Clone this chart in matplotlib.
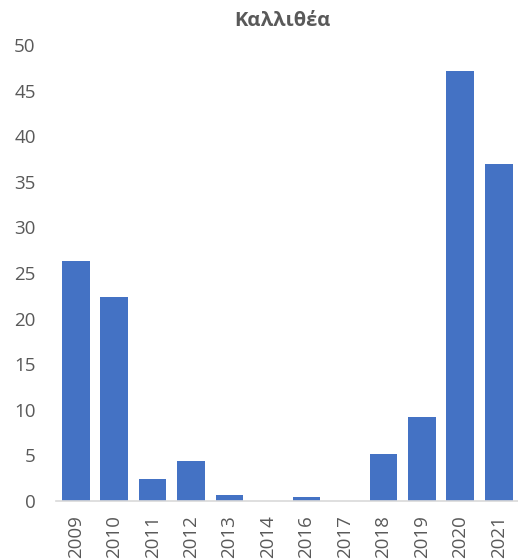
import matplotlib
matplotlib.use("Agg")
import matplotlib.pyplot as plt

plt.rcParams['font.family'] = ['Open Sans', 'DejaVu Sans']

years = ["2009", "2010", "2011", "2012", "2013", "2014", "2016",
         "2017", "2018", "2019", "2020", "2021"]
values = [26.3, 22.4, 2.45, 4.4, 0.7, 0.0, 0.45, 0.0, 5.15, 9.25, 47.15, 36.9]

bar_color = "#4472c4"
text_color = "#595959"

fig = plt.figure(figsize=(5.18, 5.59), dpi=100)
ax = fig.add_axes([56.5 / 518, 58 / 559, (518 - 56.5) / 518, (501 - 45) / 559])

ax.bar(range(len(years)), values, width=0.72, color=bar_color)
ax.set_xlim(-0.5, len(years) - 0.5)
ax.set_ylim(0, 50)
ax.set_yticks(range(0, 51, 5))
ax.set_xticks(range(len(years)))
ax.set_xticklabels(years, rotation=90)

for s in ["top", "right", "left"]:
    ax.spines[s].set_visible(False)
ax.spines["bottom"].set_color("#d9d9d9")
ax.spines["bottom"].set_linewidth(1.2)
ax.tick_params(axis="both", length=0, labelsize=13.5, colors=text_color)
ax.tick_params(axis="y", pad=15)
ax.tick_params(axis="x", pad=10)

fig.text(0.545, 1 - 21 / 559, "Καλλιθέα", ha="center", va="center",
         fontsize=14.5, fontweight="bold", color=text_color)

fig.savefig("out.png", dpi=100)
